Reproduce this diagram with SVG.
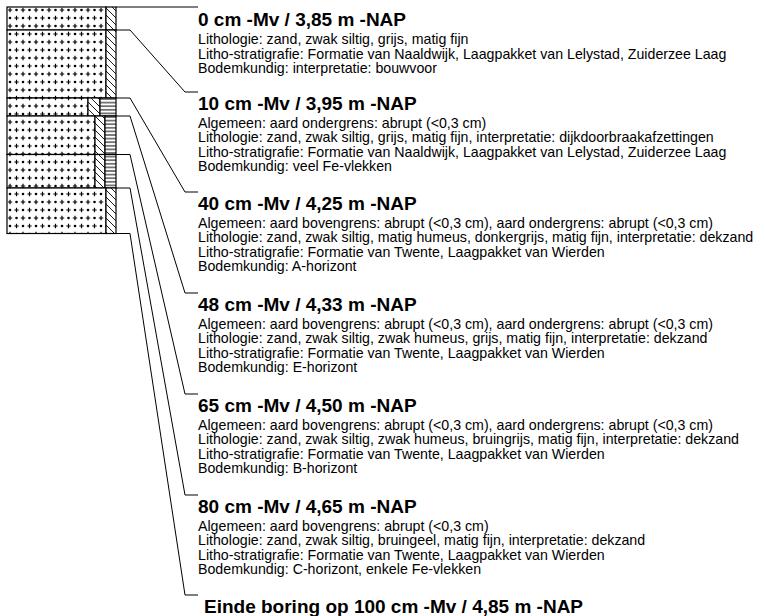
<svg xmlns="http://www.w3.org/2000/svg" width="765" height="616" viewBox="0 0 765 616">
<style>
.lay rect{stroke:#000;stroke-width:1.2}
.conn path{fill:none;stroke:#000;stroke-width:1}
text{font-family:"Liberation Sans",Arial,sans-serif;fill:#000}
.h{font-weight:bold;font-size:19px}
.t{font-size:14.2px}
</style>
<defs>
<pattern id="sand" patternUnits="userSpaceOnUse" x="7" y="6" width="13" height="16">
<rect width="13" height="16" fill="#fff"/>
<path d="M0.8,4H5.2M3,1.8V6.2M7.3,12H11.7M9.5,9.8V14.2" stroke="#000" stroke-width="1.2"/>
<circle cx="9.5" cy="4" r="1.3"/>
<circle cx="3" cy="12" r="1.3"/>
</pattern>
<pattern id="hatch" patternUnits="userSpaceOnUse" width="7" height="7">
<rect width="7" height="7" fill="#fff"/>
<path d="M0,0L7,7M-1,6L1,8M6,-1L8,1" stroke="#000" stroke-width="0.9"/>
</pattern>
<pattern id="stripes" patternUnits="userSpaceOnUse" width="4" height="3.6">
<rect width="4" height="3.6" fill="#fff"/>
<path d="M0,1.8H4" stroke="#000" stroke-width="1"/>
</pattern>
</defs>
<rect width="765" height="616" fill="#fff"/>

<g id="column">
<g id="layer-0" class="lay">
<rect x="7" y="7" width="99" height="23" fill="url(#sand)"/>
<rect x="106" y="7" width="10" height="23" fill="url(#hatch)"/>
</g>
<g id="layer-10" class="lay">
<rect x="7" y="30" width="99" height="68" fill="url(#sand)"/>
<rect x="106" y="30" width="10" height="68" fill="url(#hatch)"/>
</g>
<g id="layer-40" class="lay">
<rect x="7" y="98" width="81" height="18" fill="url(#sand)"/>
<rect x="88" y="98" width="12" height="18" fill="url(#hatch)"/>
<rect x="100" y="98" width="16" height="18" fill="url(#stripes)"/>
</g>
<g id="layer-48" class="lay">
<rect x="7" y="116" width="88" height="38.5" fill="url(#sand)"/>
<rect x="95" y="116" width="10" height="38.5" fill="url(#hatch)"/>
<rect x="105" y="116" width="11" height="38.5" fill="url(#stripes)"/>
</g>
<g id="layer-65" class="lay">
<rect x="7" y="154.5" width="88" height="33.5" fill="url(#sand)"/>
<rect x="95" y="154.5" width="10" height="33.5" fill="url(#hatch)"/>
<rect x="105" y="154.5" width="11" height="33.5" fill="url(#stripes)"/>
</g>
<g id="layer-80" class="lay">
<rect x="7" y="188" width="99" height="45.5" fill="url(#sand)"/>
<rect x="106" y="188" width="10" height="45.5" fill="url(#hatch)"/>
</g>
</g>

<g id="connectors" class="conn">
<path d="M116,7H198"/>
<path d="M116,30H130L185,92H198"/>
<path d="M116,98H130L185,192H198"/>
<path d="M116,116H130L185,293H198"/>
<path d="M116,154.5H130L185,394H198"/>
<path d="M116,188H130L185,495H198"/>
<path d="M116,233.5H130L185,595H198"/>
</g>

<g id="desc-0">
<text class="h" x="198" y="26">0 cm -Mv / 3,85 m -NAP</text>
<text class="t" x="198" y="44">Lithologie: zand, zwak siltig, grijs, matig fijn</text>
<text class="t" x="198" y="58.5">Litho-stratigrafie: Formatie van Naaldwijk, Laagpakket van Lelystad, Zuiderzee Laag</text>
<text class="t" x="198" y="73">Bodemkundig: interpretatie: bouwvoor</text>
</g>
<g id="desc-10">
<text class="h" x="198" y="109.5">10 cm -Mv / 3,95 m -NAP</text>
<text class="t" x="198" y="127.5">Algemeen: aard ondergrens: abrupt (&lt;0,3 cm)</text>
<text class="t" x="198" y="142">Lithologie: zand, zwak siltig, grijs, matig fijn, interpretatie: dijkdoorbraakafzettingen</text>
<text class="t" x="198" y="156.5">Litho-stratigrafie: Formatie van Naaldwijk, Laagpakket van Lelystad, Zuiderzee Laag</text>
<text class="t" x="198" y="171">Bodemkundig: veel Fe-vlekken</text>
</g>
<g id="desc-40">
<text class="h" x="198" y="209.5">40 cm -Mv / 4,25 m -NAP</text>
<text class="t" x="198" y="227.5">Algemeen: aard bovengrens: abrupt (&lt;0,3 cm), aard ondergrens: abrupt (&lt;0,3 cm)</text>
<text class="t" x="198" y="242">Lithologie: zand, zwak siltig, matig humeus, donkergrijs, matig fijn, interpretatie: dekzand</text>
<text class="t" x="198" y="256.5">Litho-stratigrafie: Formatie van Twente, Laagpakket van Wierden</text>
<text class="t" x="198" y="271">Bodemkundig: A-horizont</text>
</g>
<g id="desc-48">
<text class="h" x="198" y="310.5">48 cm -Mv / 4,33 m -NAP</text>
<text class="t" x="198" y="328.5">Algemeen: aard bovengrens: abrupt (&lt;0,3 cm), aard ondergrens: abrupt (&lt;0,3 cm)</text>
<text class="t" x="198" y="343">Lithologie: zand, zwak siltig, zwak humeus, grijs, matig fijn, interpretatie: dekzand</text>
<text class="t" x="198" y="357.5">Litho-stratigrafie: Formatie van Twente, Laagpakket van Wierden</text>
<text class="t" x="198" y="372">Bodemkundig: E-horizont</text>
</g>
<g id="desc-65">
<text class="h" x="198" y="411.5">65 cm -Mv / 4,50 m -NAP</text>
<text class="t" x="198" y="429.5">Algemeen: aard bovengrens: abrupt (&lt;0,3 cm), aard ondergrens: abrupt (&lt;0,3 cm)</text>
<text class="t" x="198" y="444">Lithologie: zand, zwak siltig, zwak humeus, bruingrijs, matig fijn, interpretatie: dekzand</text>
<text class="t" x="198" y="458.5">Litho-stratigrafie: Formatie van Twente, Laagpakket van Wierden</text>
<text class="t" x="198" y="473">Bodemkundig: B-horizont</text>
</g>
<g id="desc-80">
<text class="h" x="198" y="512.5">80 cm -Mv / 4,65 m -NAP</text>
<text class="t" x="198" y="530.5">Algemeen: aard bovengrens: abrupt (&lt;0,3 cm)</text>
<text class="t" x="198" y="545">Lithologie: zand, zwak siltig, bruingeel, matig fijn, interpretatie: dekzand</text>
<text class="t" x="198" y="559.5">Litho-stratigrafie: Formatie van Twente, Laagpakket van Wierden</text>
<text class="t" x="198" y="574">Bodemkundig: C-horizont, enkele Fe-vlekken</text>
</g>
<g id="desc-end">
<text class="h" x="204" y="612.5">Einde boring op 100 cm -Mv / 4,85 m -NAP</text>
</g>
</svg>
